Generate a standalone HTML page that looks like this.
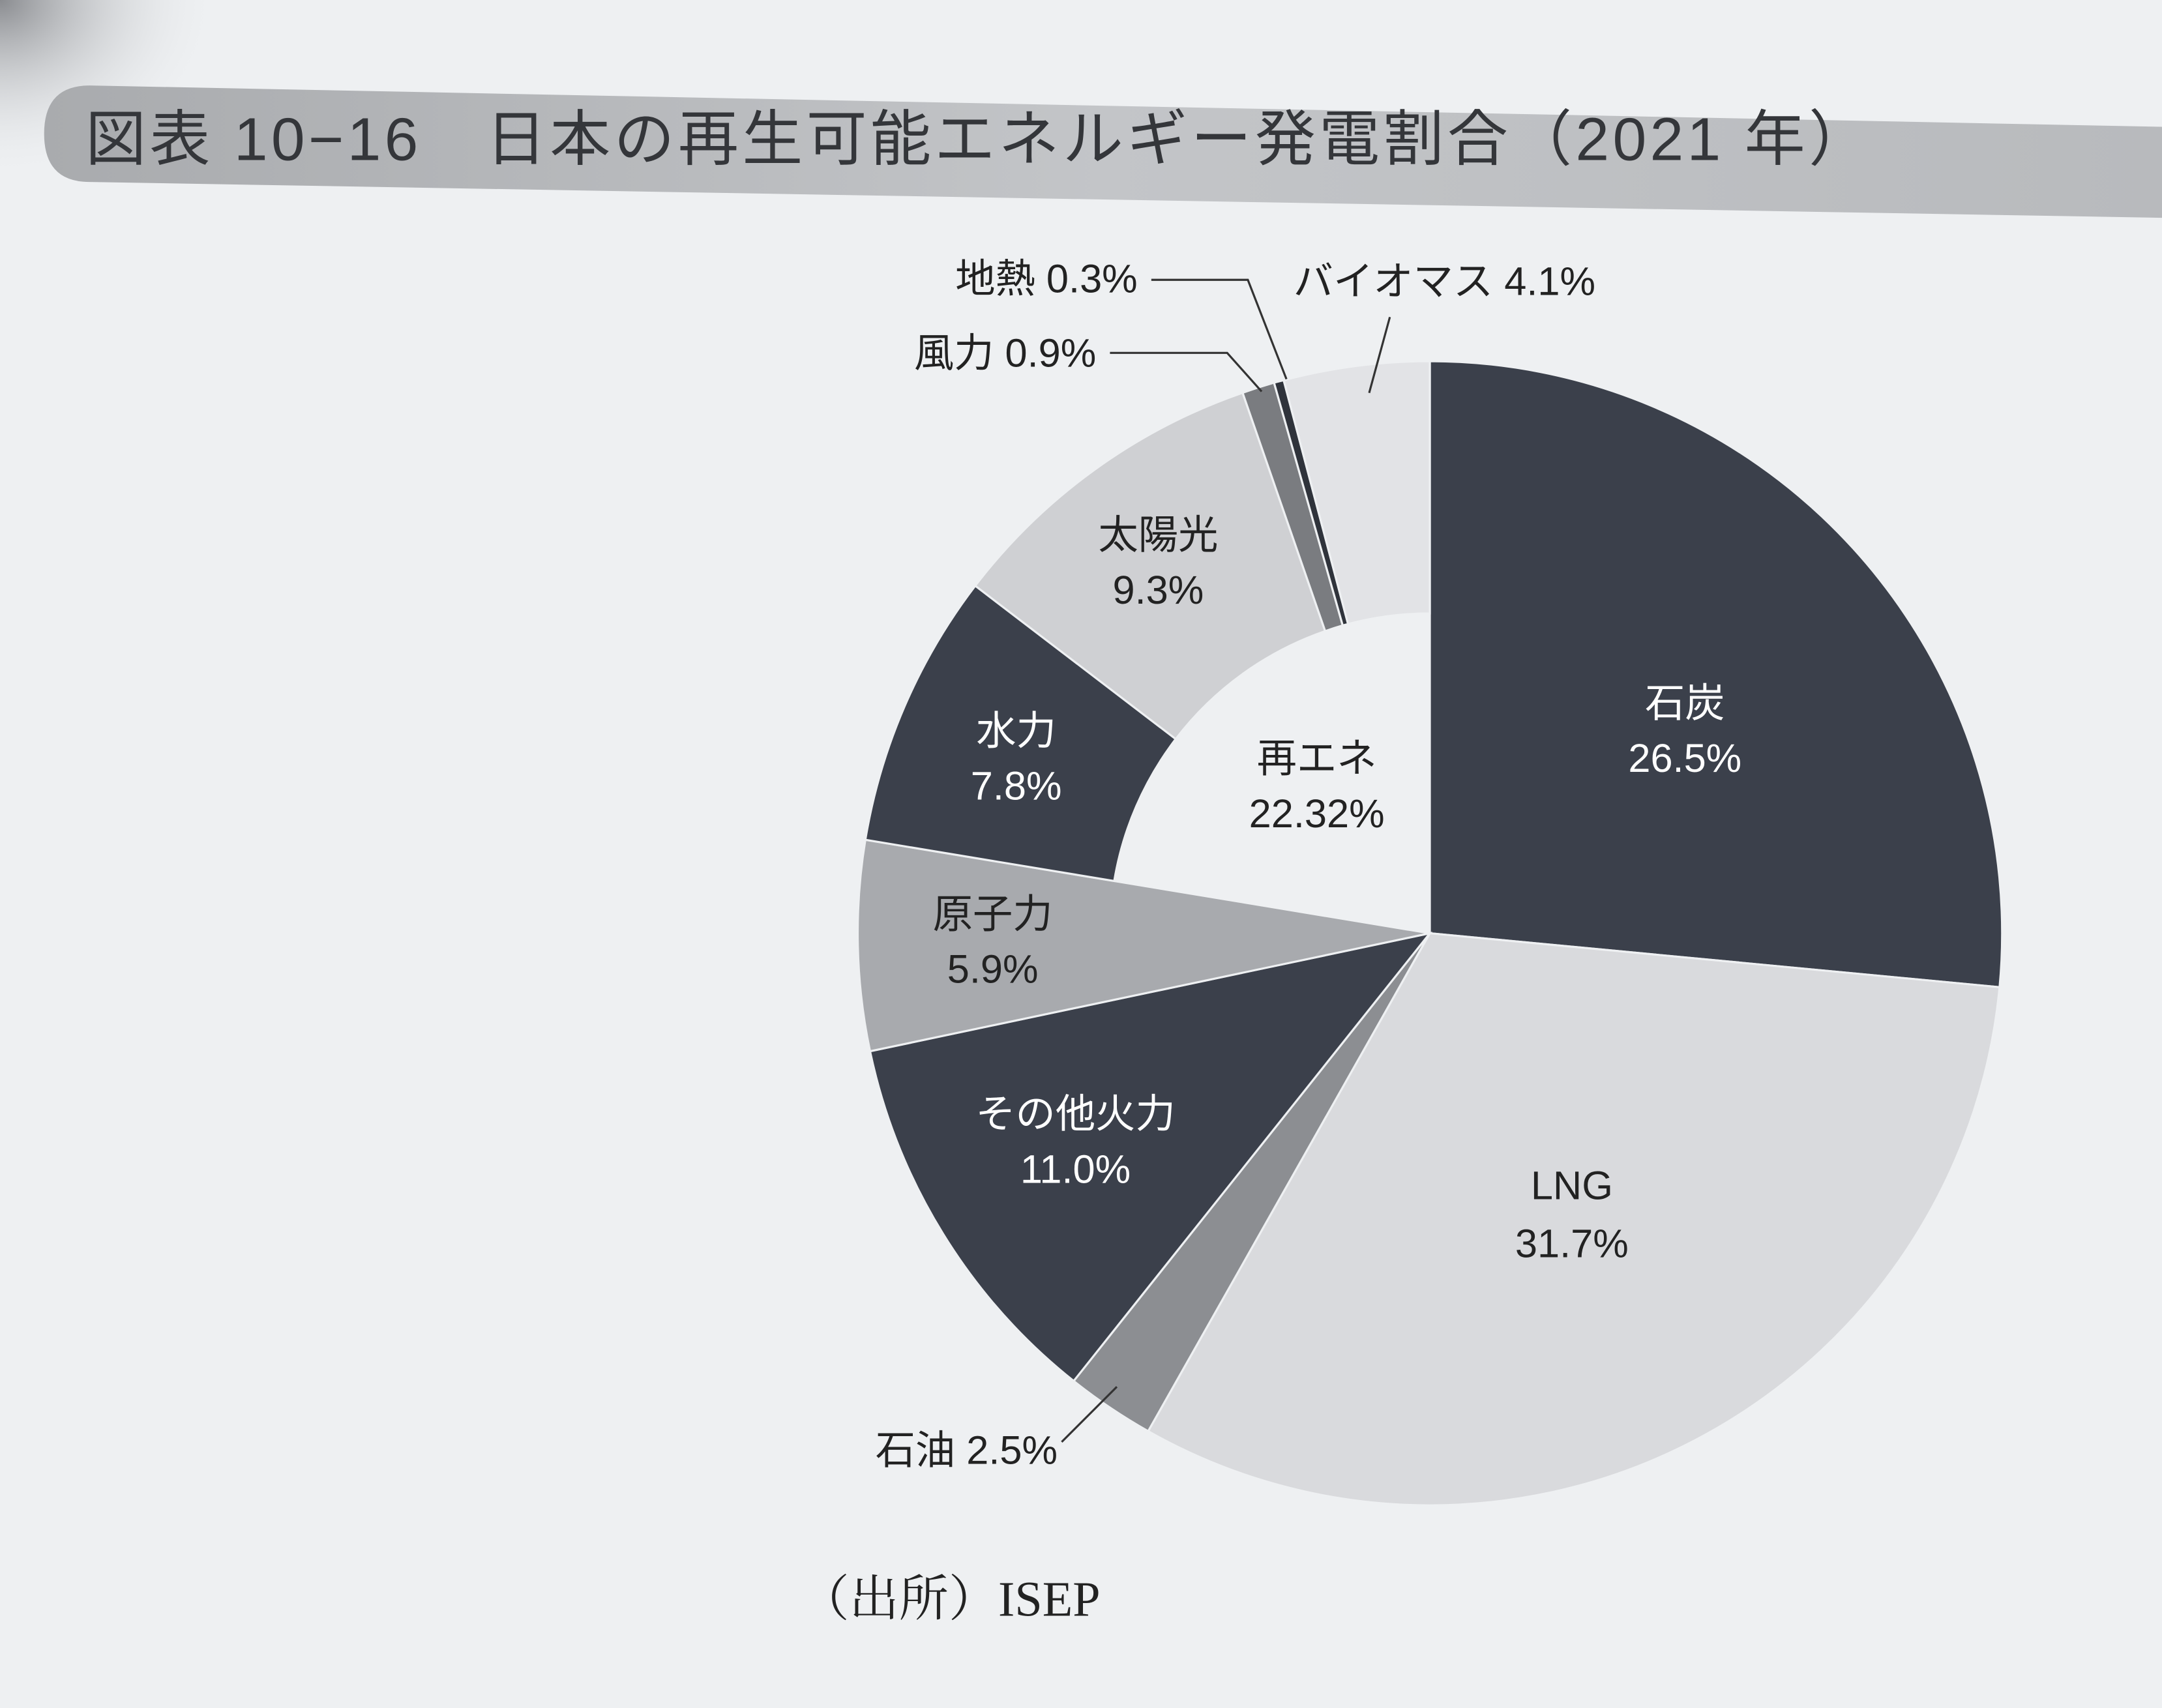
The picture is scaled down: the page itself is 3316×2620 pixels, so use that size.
<!DOCTYPE html>
<html><head><meta charset="utf-8"><style>
html,body{margin:0;padding:0;background:#eef0f2;}
svg{display:block}
text{font-family:"Liberation Sans","Noto Sans CJK JP",sans-serif;}
</style></head><body>
<svg width="3316" height="2620" viewBox="0 0 1568 1239" preserveAspectRatio="none" xmlns="http://www.w3.org/2000/svg">
<defs>
<linearGradient id="bar" x1="0" y1="0" x2="1" y2="0">
<stop offset="0" stop-color="#a9abae"/><stop offset="0.5" stop-color="#c3c5c8"/><stop offset="1" stop-color="#b8babd"/>
</linearGradient>
<radialGradient id="corner" cx="0" cy="0" r="1">
<stop offset="0" stop-color="#8a8c90"/><stop offset="1" stop-color="#eef0f2" stop-opacity="0"/>
</radialGradient>
</defs>
<rect width="1568" height="1239" fill="#eef0f2"/>
<rect x="0" y="0" width="160" height="130" fill="url(#corner)"/>
<path d="M65,62 L1568,92 L1568,158 L65,132 Q32,132 32,97 Q32,62 65,62 Z" fill="url(#bar)"/>
<text x="62" y="116" font-size="44" letter-spacing="2.5" fill="#34363a">図表 10−16　日本の再生可能エネルギー発電割合（2021 年）</text>

<g stroke="#eef0f2" stroke-width="1.5">
<path d="M1037,677 L1037,262 A415,415 0 0 1 1450.2,716.1 Z" fill="#3b404b"/>
<path d="M1037,677 L1450.2,716.1 A415,415 0 0 1 832.7,1038.2 Z" fill="#d9dadd"/>
<path d="M1037,677 L832.7,1038.2 A415,415 0 0 1 778.7,1001.8 Z" fill="#8c8e92"/>
<path d="M1037,677 L778.7,1001.8 A415,415 0 0 1 631.0,762.6 Z" fill="#3b404b"/>
<path d="M1037,677 L631.0,762.6 A415,415 0 0 1 627.6,609.2 L808.1,639.1 Z" fill="#a8aaae"/>
<path d="M627.6,609.2 A415,415 0 0 1 707.3,424.9 L852.7,536.1 A232,232 0 0 0 808.1,639.1 Z" fill="#3b404b"/>
<path d="M707.3,424.9 A415,415 0 0 1 901.2,284.9 L961.1,457.8 A232,232 0 0 0 852.7,536.1 Z" fill="#cfd0d3"/>
<path d="M901.2,284.9 A415,415 0 0 1 924.0,277.6 L973.8,453.7 A232,232 0 0 0 961.1,457.8 Z" fill="#7a7c80"/>
<path d="M924.0,277.6 A415,415 0 0 1 931.0,275.8 L977.7,452.7 A232,232 0 0 0 973.8,453.7 Z" fill="#2f333b"/>
<path d="M931.0,275.8 A415,415 0 0 1 1037,262 L1037,445 A232,232 0 0 0 977.7,452.7 Z" fill="#e2e3e6"/>
</g>

<g font-size="29" text-anchor="middle">
<text x="1222" y="520" fill="#fff">石炭</text>
<text x="1222" y="560" fill="#fff">26.5%</text>
<text x="1140" y="870" fill="#222">LNG</text>
<text x="1140" y="912" fill="#222">31.7%</text>
<text x="780" y="818" fill="#fff">その他火力</text>
<text x="780" y="858" fill="#fff">11.0%</text>
<text x="720" y="673" fill="#222">原子力</text>
<text x="720" y="713" fill="#222">5.9%</text>
<text x="737" y="540" fill="#fff">水力</text>
<text x="737" y="580" fill="#fff">7.8%</text>
<text x="840" y="398" fill="#222">太陽光</text>
<text x="840" y="438" fill="#222">9.3%</text>
<text x="955" y="560" fill="#222">再エネ</text>
<text x="955" y="600" fill="#222">22.32%</text>
</g>
<g font-size="29" fill="#222">
<text x="825" y="212" text-anchor="end">地熱 0.3%</text>
<text x="795" y="266" text-anchor="end">風力 0.9%</text>
<text x="938" y="214">バイオマス 4.1%</text>
<text x="767" y="1062" text-anchor="end">石油 2.5%</text>
</g>
<g stroke="#333" stroke-width="1.5" fill="none">
<polyline points="835,203 905,203 933,275"/>
<polyline points="805,256 890,256 915,284"/>
<line x1="1008" y1="230" x2="993" y2="285"/>
<line x1="770" y1="1046" x2="810" y2="1006"/>
</g>
<text x="580" y="1172" font-size="36" fill="#222" style='font-family:"Liberation Serif","Noto Serif CJK SC",serif'>（出所）ISEP</text>
</svg>
</body></html>
